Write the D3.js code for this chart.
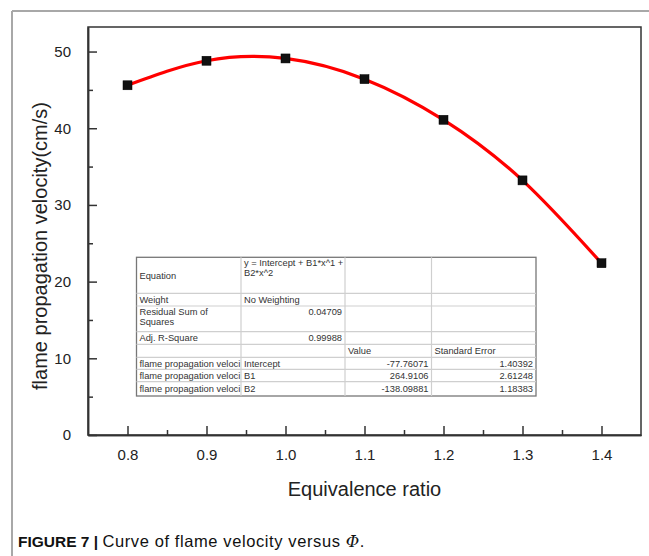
<!DOCTYPE html>
<html><head><meta charset="utf-8">
<script src="https://cdn.jsdelivr.net/npm/d3@7"></script>
<style>
html,body{margin:0;padding:0;background:#fff;}
svg{display:block;font-family:"Liberation Sans",Arial,sans-serif;}
</style></head>
<body><svg id="chart" width="649" height="556"></svg>
<script>
// ---- data ----
const phi = [0.8, 0.9, 1.0, 1.1, 1.2, 1.3, 1.4];
const velocity = [45.6, 48.8, 49.1, 46.4, 41.1, 33.2, 22.4];
const xTicks = [0.8, 0.9, 1.0, 1.1, 1.2, 1.3, 1.4];
const xMinorTicks = [0.85, 0.95, 1.05, 1.15, 1.25, 1.35];
const yTicks = [0, 10, 20, 30, 40, 50];
const yMinorTicks = [5, 15, 25, 35, 45];
const xTitle = "Equivalence ratio";
const yTitle = "flame propagation velocity(cm/s)";
const tableLabels = ["Equation", "Weight", "Residual Sum of|Squares", "Adj. R-Square", "", "flame propagation veloci", "flame propagation veloci", "flame propagation veloci"];
const tableCol2 = ["y = Intercept + B1*x^1 +|B2*x^2", "No Weighting", "0.04709", "0.99988", "", "Intercept", "B1", "B2"];
const tableCol3 = ["", "", "", "", "Value", "-77.76071", "264.9106", "-138.09881"];
const tableCol4 = ["", "", "", "", "Standard Error", "1.40392", "2.61248", "1.18383"];

// ---- layout ----
const svg = d3.select("#chart");
const L = 88, R = 641, T = 27, B = 435;
const x = d3.scaleLinear().domain([0.75, 1.45]).range([L, R]);
const y = d3.scaleLinear().domain([0, 53.2]).range([B, T]);

// outer figure frame
svg.append("line").attr("x1", 12).attr("x2", 649).attr("y1", 11).attr("y2", 11).attr("stroke", "#a8a8a8").attr("stroke-width", 2);
svg.append("line").attr("x1", 12).attr("x2", 12).attr("y1", 11).attr("y2", 556).attr("stroke", "#a8a8a8").attr("stroke-width", 2);

// plot frame
svg.append("rect").attr("x", L).attr("y", T).attr("width", R - L).attr("height", B - T)
  .attr("fill", "none").attr("stroke", "#333").attr("stroke-width", 1.5);

// axes (ticks inward)
const xAxis = svg.append("g").attr("transform", `translate(0,${B})`)
  .call(d3.axisBottom(x).tickValues(xTicks).tickFormat(d3.format(".1f")).tickSizeInner(-9).tickSizeOuter(0).tickPadding(14));
const xMinor = svg.append("g").attr("transform", `translate(0,${B})`)
  .call(d3.axisBottom(x).tickValues(xMinorTicks).tickFormat("").tickSizeInner(-5).tickSizeOuter(0));
const yAxis = svg.append("g").attr("transform", `translate(${L},0)`)
  .call(d3.axisLeft(y).tickValues(yTicks).tickFormat(d3.format("d")).tickSizeInner(-9).tickSizeOuter(0).tickPadding(17));
const yMinor = svg.append("g").attr("transform", `translate(${L},0)`)
  .call(d3.axisLeft(y).tickValues(yMinorTicks).tickFormat("").tickSizeInner(-5).tickSizeOuter(0));
[xAxis, xMinor, yAxis, yMinor].forEach(g => {
  g.select(".domain").attr("stroke", "#333").attr("stroke-width", 1.5);
  g.selectAll(".tick line").attr("stroke", "#333").attr("stroke-width", 1.5);
  g.selectAll("text").attr("font-size", 15).attr("fill", "#222").attr("font-family", "Liberation Sans, Arial, sans-serif");
});

// axis titles
svg.append("text").attr("x", (L + R) / 2 + 0).attr("y", 496).attr("text-anchor", "middle")
  .attr("font-size", 20).attr("fill", "#222").text(xTitle);
svg.append("text").attr("transform", `translate(47,${246}) rotate(-90)`).attr("text-anchor", "middle")
  .attr("font-size", 20).attr("fill", "#222").text(yTitle);

// fit curve through points
const pts = phi.map((p, i) => [p, velocity[i]]);
const line = d3.line().x(d => x(d[0])).y(d => y(d[1])).curve(d3.curveNatural);
svg.append("path").attr("d", line(pts)).attr("fill", "none").attr("stroke", "#ff0000").attr("stroke-width", 3.2);

// markers
svg.selectAll("rect.pt").data(pts).enter().append("rect").attr("class", "pt")
  .attr("x", d => x(d[0]) - 4.5).attr("y", d => y(d[1]) - 4.5).attr("width", 9).attr("height", 9)
  .attr("fill", "#111").attr("stroke", "#000").attr("stroke-width", 0.5);

// ---- fit table ----
const colX = [136.5, 241, 345, 431.5, 536];
const rowY = [257.3, 293.3, 306, 331.7, 344.3, 357.3, 369.3, 381.7, 396];
const tg = svg.append("g").attr("font-size", 9.3).attr("fill", "#333");
tg.append("rect").attr("x", colX[0]).attr("y", rowY[0]).attr("width", colX[4] - colX[0]).attr("height", rowY[8] - rowY[0])
  .attr("fill", "#fff").attr("stroke", "#777").attr("stroke-width", 1.3);
rowY.slice(1, 8).forEach(ry => tg.append("line").attr("x1", colX[0]).attr("x2", colX[4]).attr("y1", ry).attr("y2", ry).attr("stroke", "#cfcfcf").attr("stroke-width", 1.2));
colX.slice(1, 4).forEach(cx => tg.append("line").attr("x1", cx).attr("x2", cx).attr("y1", rowY[0]).attr("y2", rowY[8]).attr("stroke", "#cfcfcf").attr("stroke-width", 1.2));

function cellText(text, col, row, align, valign) {
  if (!text) return;
  const lines = text.split("|");
  const x0 = colX[col], x1 = colX[col + 1];
  const y0 = rowY[row], y1 = rowY[row + 1];
  const lh = 9.5;
  let startY;
  if (valign === "middle") startY = (y0 + y1) / 2 - (lines.length - 1) * lh / 2 + 3.3;
  else startY = y0 + 9;
  lines.forEach((ln, i) => {
    tg.append("text").attr("x", align === "end" ? x1 - 3 : x0 + 3).attr("y", startY + i * lh)
      .attr("text-anchor", align === "end" ? "end" : "start").text(ln);
  });
}
tableLabels.forEach((t, r) => cellText(t, 0, r, "start", r === 0 ? "middle" : (r === 2 ? "top" : "middle")));
tableCol2.forEach((t, r) => {
  const numeric = r === 2 || r === 3;
  cellText(t, 1, r, numeric ? "end" : "start", (r === 0 || r === 2) ? "top" : "middle");
});
tableCol3.forEach((t, r) => cellText(t, 2, r, r === 4 ? "start" : "end", "middle"));
tableCol4.forEach((t, r) => cellText(t, 3, r, r === 4 ? "start" : "end", "middle"));

// caption
const cap = svg.append("text").attr("x", 18).attr("y", 547).attr("font-size", 15.5).attr("fill", "#111");
cap.append("tspan").attr("font-weight", "bold").text("FIGURE 7 | ");
const capReg = cap.append("tspan").attr("font-size", 16.5).attr("letter-spacing", 0.6);
capReg.append("tspan").text("Curve of flame velocity versus ");
capReg.append("tspan").attr("font-style", "italic").attr("font-family", "DejaVu Serif, serif").text("Φ");
capReg.append("tspan").text(".");
</script>
</body></html>
